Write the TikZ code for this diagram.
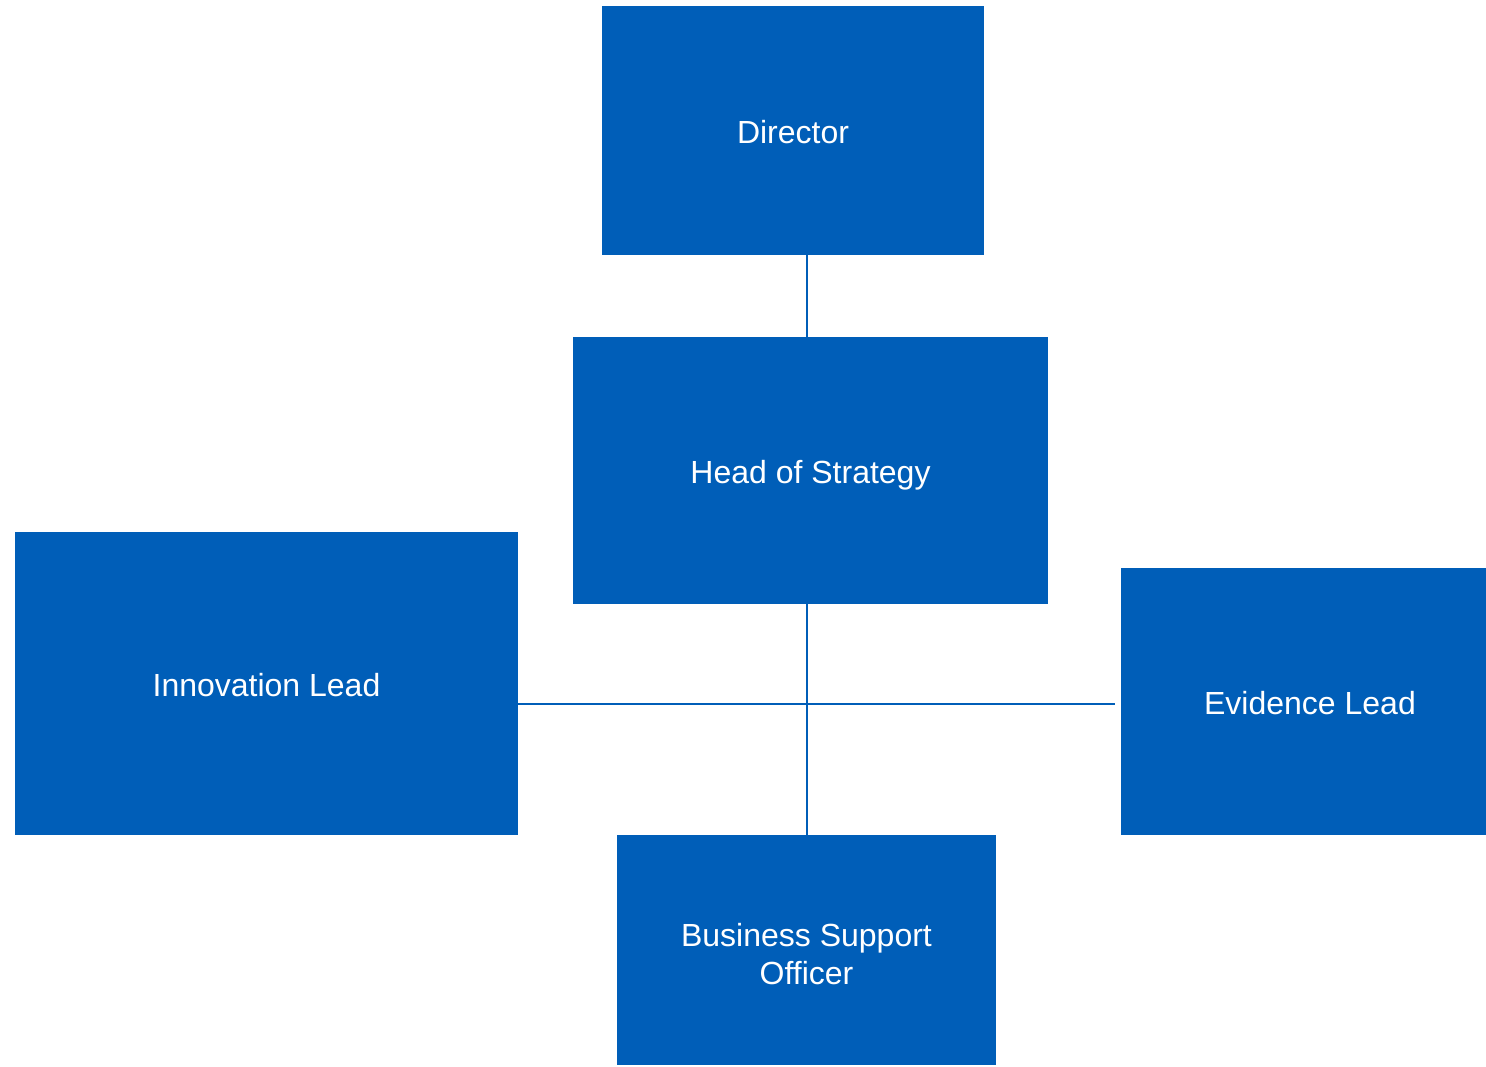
\documentclass[tikz,border=0pt]{standalone}
\usepackage{fontspec}
\setmainfont{Liberation Sans}
\definecolor{nhsblue}{HTML}{005EB8}
\begin{document}
\begin{tikzpicture}[x=1pt,y=-1pt,
  box/.style={rectangle,fill=nhsblue,text=white,inner sep=0pt,align=center,
    font=\fontsize{32}{38}\selectfont,text height=30pt,text depth=4pt},
  link/.style={draw=nhsblue,line width=1.5pt}]
\useasboundingbox (0,0) rectangle (1486,1066);
\node[box,minimum width=382pt,minimum height=249pt] (dir) at (793,130.5) {Director};
\node[box,minimum width=475pt,minimum height=267pt] (hos) at (810.5,470.5) {Head of Strategy};
\node[box,minimum width=503pt,minimum height=303pt] (inn) at (266.5,683.5) {Innovation Lead};
\node[box,minimum width=365pt,minimum height=267pt] (evi) at (1303.5,701.5) {\hspace*{13pt}Evidence Lead};
\node[box,minimum width=379pt,minimum height=230pt,text height=,text depth=] (bso) at (806.5,950) {\rule{0pt}{31pt}Business Support\\Officer};
\coordinate (j) at (807,704);
\coordinate (e) at (1115,704);
\draw[link] (dir.south -| j) -- (hos.north -| j);
\draw[link] (hos.south -| j) -- (bso.north -| j);
\draw[link] (inn.east |- j) -- (j) -- (e);
\end{tikzpicture}
\end{document}
